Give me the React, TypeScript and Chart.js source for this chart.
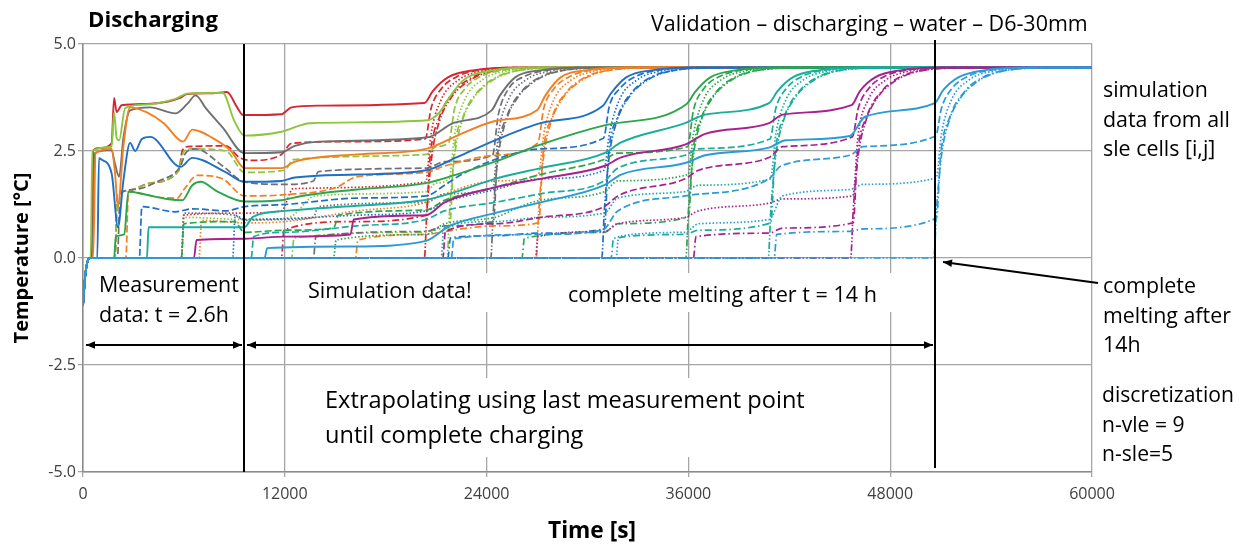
import React, { useEffect, useRef } from "react";
import { Chart, registerables } from "chart.js";
Chart.register(...registerables);

// ---------- axis values ----------
const X_TICKS = [0, 12000, 24000, 36000, 48000, 60000];
const Y_TICKS = [-5, -2.5, 0, 2.5, 5];
const MEAS_END_T = 9570; // end of measurement data [s]
const MELT_END_T = 50650; // complete melting [s]

// common start of every cell (initial sub-cooling) and common end value
const START: number[][] = [[0, -1.1], [150, -0.35], [400, 0]];
const END: number[][] = [[60000, 4.45]];

// ---------- group 1 (red) ----------
const RED_S = [[520,0],[620,2.52],[1000,2.57],[1700,2.68],[1850,3.74],[2000,3.41],[2300,3.57],[3800,3.6],[5000,3.65],[5770,3.74],[6180,3.83],[7730,3.85],[8560,3.88],[9150,3.53],[9520,3.34],[11800,3.36],[12400,3.52],[14000,3.56],[20300,3.62],[20800,3.9],[21700,4.22],[23300,4.39],[25800,4.45]];
const RED_D = [[1900,0],[2050,1.5],[2500,1.56],[4000,1.75],[5700,2.05],[5900,2.5],[6200,2.6],[8500,2.62],[9300,2.35],[10000,2.28],[11800,2.42],[12400,2.68],[16000,2.72],[20350,2.78],[20700,3.5],[21300,3.95],[22300,4.25],[23800,4.4],[26300,4.45]];
const RED_O = [[5850,0],[6000,1.0],[9500,1.05],[11800,1.1],[12500,1.62],[20380,1.78],[20700,2.9],[21300,3.7],[22300,4.15],[23800,4.37],[26300,4.45]];
const RED_DD = [[11800,0],[11950,0.65],[16000,0.85],[20400,1.0],[20650,2.4],[21200,3.3],[22100,3.9],[23300,4.25],[24800,4.4],[27300,4.45]];
const RED_DDD = [[20300,0],[20450,1.1],[20750,2.4],[21200,3.2],[21900,3.75],[22800,4.1],[24000,4.33],[25800,4.43],[28000,4.45]];

// ---------- group 2 (light green) ----------
const LG_S = [[450,0],[560,2.5],[1700,2.6],[1850,3.4],[2000,2.8],[2150,2.75],[2500,3.5],[3500,3.58],[5500,3.72],[6200,3.84],[8300,3.86],[9000,3.2],[9600,2.86],[11800,2.95],[13500,3.15],[20500,3.22],[21200,3.4],[21700,3.7],[22600,4.15],[24300,4.38],[26800,4.45]];
const LG_D = [[1900,0],[2050,1.5],[2500,1.56],[4000,1.75],[5700,2.05],[5950,2.45],[6300,2.55],[8500,2.5],[9600,2.0],[12000,2.05],[12500,2.3],[20400,2.42],[21000,2.6],[21750,2.7],[22100,3.5],[22700,3.95],[23700,4.25],[25200,4.4],[27700,4.45]];
const LG_O = [[5850,0],[6000,0.95],[9600,0.9],[12000,0.92],[12500,1.0],[13800,1.45],[20400,1.55],[21000,1.75],[21780,1.85],[22100,2.9],[22700,3.7],[23700,4.15],[25200,4.37],[27700,4.45]];
const LG_DD = [[12400,0],[12550,0.47],[20400,0.6],[21000,0.68],[21800,0.72],[22050,2.4],[22600,3.3],[23500,3.9],[24700,4.25],[26200,4.4],[28700,4.45]];
const LG_DDD = [[21650,0],[21800,1.1],[22100,2.4],[22550,3.2],[23250,3.75],[24150,4.1],[25350,4.33],[27150,4.43],[29500,4.45]];

// ---------- group 3 (gray) ----------
const GR_S = [[550,0],[700,2.45],[1700,2.52],[1900,2.2],[2150,1.9],[2400,2.8],[2800,3.45],[4000,3.52],[5500,3.38],[6200,3.6],[6700,3.8],[7300,3.5],[8300,3.05],[9600,2.45],[11800,2.47],[12600,2.62],[14000,2.72],[20500,2.82],[22000,3.15],[24300,3.45],[24800,3.8],[25700,4.22],[27300,4.39],[29800,4.45]];
const GR_D = [[2050,0],[2200,1.5],[3000,1.6],[4500,1.8],[5800,2.15],[6100,2.45],[6700,2.55],[8300,2.15],[9600,1.78],[12000,1.72],[13700,1.8],[14000,2.02],[20400,2.1],[21500,2.25],[24350,2.4],[24700,3.35],[25300,3.95],[26300,4.25],[27800,4.4],[30300,4.45]];
const GR_O = [[5850,0],[6000,1.05],[9000,1.0],[9600,0.88],[12000,0.9],[13700,0.95],[14000,1.2],[20400,1.3],[21500,1.5],[24380,1.65],[24700,2.9],[25300,3.7],[26300,4.15],[27800,4.37],[30300,4.45]];
const GR_DD = [[13700,0],[13850,0.5],[20400,0.62],[21500,0.75],[24400,0.85],[24650,2.4],[25200,3.3],[26100,3.9],[27300,4.25],[28800,4.4],[31300,4.45]];
const GR_DDD = [[24250,0],[24400,1.1],[24700,2.4],[25150,3.2],[25850,3.75],[26750,4.1],[27950,4.33],[29750,4.43],[32000,4.45]];

// ---------- group 4 (orange) ----------
const OR_S = [[600,0],[750,2.45],[1700,2.55],[1900,2.0],[2080,1.2],[2400,2.6],[2800,3.52],[3800,3.4],[4800,3.15],[5950,2.72],[6500,3.0],[7000,2.95],[7500,2.85],[8800,2.5],[9600,2.1],[11800,2.1],[12600,2.25],[16300,2.42],[20400,2.55],[22200,2.85],[24500,3.2],[27000,3.45],[27500,3.8],[28400,4.22],[30000,4.39],[32500,4.45]];
const OR_D = [[2550,0],[2700,1.55],[4500,1.42],[5600,1.4],[6000,1.6],[6800,1.93],[8300,1.85],[9600,1.45],[12000,1.48],[15000,1.64],[16300,1.9],[20400,2.0],[21500,2.15],[24500,2.4],[27050,2.69],[27400,3.5],[28000,3.95],[29000,4.25],[30500,4.4],[33000,4.45]];
const OR_O = [[6900,0],[7050,0.88],[9600,0.82],[12000,0.85],[16300,1.1],[20400,1.3],[21500,1.5],[24500,1.8],[27080,1.95],[27400,2.9],[28000,3.7],[29000,4.15],[30500,4.37],[33000,4.45]];
const OR_DD = [[16200,0],[16350,0.42],[20400,0.55],[21500,0.62],[24500,0.75],[27100,0.82],[27350,2.4],[27900,3.3],[28800,3.9],[30000,4.25],[31500,4.4],[34000,4.45]];
const OR_DDD = [[26950,0],[27100,1.1],[27400,2.4],[27850,3.2],[28550,3.75],[29450,4.1],[30650,4.33],[32450,4.43],[35000,4.45]];

// ---------- group 5 (blue) ----------
const BL_S = [[850,0],[950,2.33],[1100,2.3],[1700,1.98],[2080,0.72],[2400,1.8],[2800,2.69],[3100,2.5],[3500,2.78],[4000,2.83],[5800,2.13],[6500,2.34],[8500,2.0],[9600,1.78],[11800,1.8],[12600,1.88],[16300,1.95],[20400,2.05],[22200,2.35],[24500,2.75],[27200,3.15],[30900,3.55],[31400,3.85],[32300,4.22],[33900,4.39],[36400,4.45]];
const BL_D = [[3350,0],[3500,1.2],[5500,1.08],[6500,1.15],[8500,1.1],[9600,1.2],[12000,1.25],[16300,1.4],[20400,1.45],[21500,1.7],[22500,1.95],[24500,2.3],[27200,2.55],[30950,2.8],[31300,3.55],[31900,3.95],[32900,4.25],[34400,4.4],[36900,4.45]];
const BL_O = [[8900,0],[9050,1.0],[9600,0.9],[12000,0.92],[16300,1.0],[20400,1.1],[21500,1.3],[24500,1.6],[27200,1.85],[30980,2.05],[31300,2.9],[31900,3.7],[32900,4.15],[34400,4.37],[36900,4.45]];
const BL_DD = [[21700,0],[21850,0.47],[24500,0.52],[27200,0.58],[31000,0.68],[31250,2.4],[31800,3.3],[32700,3.9],[33900,4.25],[35400,4.4],[37900,4.45]];
const BL_DDD = [[30850,0],[31000,1.1],[31300,2.4],[31750,3.2],[32450,3.75],[33350,4.1],[34550,4.33],[36350,4.43],[39000,4.45]];

// ---------- group 6 (green) ----------
const GN_S = [[1850,0],[1950,0.5],[2450,0.55],[2700,1.55],[3500,1.5],[5000,1.38],[5900,1.35],[6500,1.7],[7000,1.78],[8000,1.55],[9600,1.32],[11800,1.35],[13000,1.45],[16300,1.6],[20400,1.75],[22200,1.95],[24500,2.25],[27200,2.65],[31000,3.1],[35900,3.6],[36400,3.88],[37300,4.22],[38900,4.39],[41400,4.45]];
const GN_D = [[5850,0],[6000,0.8],[9000,0.85],[9600,0.6],[12000,0.65],[14900,0.7],[15200,1.0],[20400,1.12],[21500,1.35],[24500,1.65],[27200,1.95],[31000,2.3],[31800,2.45],[35950,2.6],[36300,3.45],[36900,3.95],[37900,4.25],[39400,4.4],[41900,4.45]];
const GN_O = [[14900,0],[15050,0.42],[20400,0.55],[21500,0.8],[24500,0.95],[26000,1.2],[27200,1.35],[31000,1.55],[31800,1.8],[35980,1.95],[36300,2.9],[36900,3.7],[37900,4.15],[39400,4.37],[41900,4.45]];
const GN_DD = [[26100,0],[26250,0.46],[31000,0.6],[31800,0.8],[36000,0.96],[36250,2.4],[36800,3.3],[37700,3.9],[38900,4.25],[40400,4.4],[42900,4.45]];
const GN_DDD = [[35850,0],[36000,1.1],[36300,2.4],[36750,3.2],[37450,3.75],[38350,4.1],[39550,4.33],[41350,4.43],[44000,4.45]];

// ---------- group 7 (teal) ----------
const TL_S = [[3800,0],[3900,0.72],[9600,0.72],[10100,0.96],[12000,1.1],[16300,1.22],[20400,1.36],[22200,1.55],[24500,1.85],[27200,2.1],[31000,2.45],[32000,2.7],[35800,3.15],[37000,3.35],[40800,3.62],[41300,3.9],[42200,4.22],[43800,4.39],[46300,4.45]];
const TL_D = [[10000,0],[10150,0.5],[12000,0.6],[16300,0.75],[20400,0.9],[21500,1.1],[24500,1.3],[27200,1.5],[31000,1.8],[31800,2.1],[35800,2.4],[36600,2.55],[40850,2.78],[41200,3.5],[41800,3.95],[42800,4.25],[44300,4.4],[46800,4.45]];
const TL_O = [[21300,0],[21450,0.72],[24500,0.85],[27200,0.95],[31000,1.05],[31800,1.4],[35800,1.55],[36600,1.7],[40880,1.85],[41200,2.9],[41800,3.7],[42800,4.15],[44300,4.37],[46800,4.45]];
const TL_DD = [[31400,0],[31550,0.46],[35800,0.55],[36600,0.65],[40900,0.82],[41150,2.4],[41700,3.3],[42600,3.9],[43800,4.25],[45300,4.4],[47800,4.45]];
const TL_DDD = [[40750,0],[40900,1.1],[41200,2.4],[41650,3.2],[42350,3.75],[43250,4.1],[44450,4.33],[46250,4.43],[49000,4.45]];

// ---------- group 8 (magenta) ----------
const MG_S = [[6600,0],[6750,0.42],[9600,0.45],[12000,0.5],[15900,0.55],[16100,0.9],[20400,1.0],[21500,1.3],[24500,1.65],[27200,1.85],[31000,2.15],[32000,2.35],[35800,2.65],[37000,2.9],[40800,3.15],[41600,3.35],[45700,3.57],[46200,3.9],[47100,4.22],[48700,4.39],[51200,4.45]];
const MG_D = [[21400,0],[21550,0.62],[24500,0.8],[27200,0.95],[31000,1.2],[31800,1.45],[35800,1.85],[36600,2.05],[40800,2.35],[41600,2.6],[45750,2.83],[46100,3.5],[46700,3.95],[47700,4.25],[49200,4.4],[51700,4.45]];
const MG_O = [[26900,0],[27050,0.5],[31000,0.62],[31800,0.8],[35800,0.95],[36600,1.1],[40800,1.28],[41600,1.38],[45780,1.45],[46100,2.9],[46700,3.7],[47700,4.15],[49200,4.37],[51700,4.45]];
const MG_DD = [[36300,0],[36450,0.5],[40800,0.58],[41600,0.7],[45800,0.82],[46050,2.4],[46600,3.3],[47500,3.9],[48700,4.25],[50200,4.4],[52700,4.45]];
const MG_DDD = [[45650,0],[45800,1.1],[46100,2.4],[46550,3.2],[47250,3.75],[48150,4.1],[49350,4.33],[51150,4.43],[54000,4.45]];

// ---------- group 9 (light blue) ----------
const LB_S = [[10800,0],[10950,0.23],[16000,0.27],[20400,0.4],[21800,0.75],[24500,1.05],[27200,1.3],[31000,1.7],[32000,1.95],[35800,2.22],[37000,2.4],[40800,2.58],[41800,2.75],[45600,2.85],[46500,3.3],[50650,3.62],[51150,3.92],[52050,4.22],[53650,4.39],[56150,4.45]];
const LB_D = [[21900,0],[22050,0.45],[27000,0.55],[30900,0.65],[31800,1.1],[35800,1.45],[40800,1.85],[41500,2.15],[45600,2.4],[46400,2.6],[50700,2.85],[51050,3.5],[51650,3.95],[52650,4.25],[54150,4.4],[56650,4.45]];
const LB_O = [[31700,0],[31850,0.5],[35800,0.6],[36600,0.8],[40800,0.9],[41600,1.45],[45600,1.6],[46400,1.72],[50730,1.87],[51050,2.9],[51650,3.7],[52650,4.15],[54150,4.37],[56650,4.45]];
const LB_DD = [[41100,0],[41250,0.55],[45600,0.62],[46400,0.68],[50750,0.93],[51000,2.4],[51550,3.3],[52450,3.9],[53650,4.25],[55150,4.4],[57650,4.45]];
const LB_DDD = [[50600,0],[50750,1.1],[51050,2.4],[51500,3.2],[52200,3.75],[53100,4.1],[54300,4.33],[56100,4.43],[58500,4.45]];

const GROUPS = [
  [RED_S, RED_D, RED_O, RED_DD, RED_DDD],
  [LG_S, LG_D, LG_O, LG_DD, LG_DDD],
  [GR_S, GR_D, GR_O, GR_DD, GR_DDD],
  [OR_S, OR_D, OR_O, OR_DD, OR_DDD],
  [BL_S, BL_D, BL_O, BL_DD, BL_DDD],
  [GN_S, GN_D, GN_O, GN_DD, GN_DDD],
  [TL_S, TL_D, TL_O, TL_DD, TL_DDD],
  [MG_S, MG_D, MG_O, MG_DD, MG_DDD],
  [LB_S, LB_D, LB_O, LB_DD, LB_DDD],
];

// ---------- styles ----------
const COLORS = ["#d6262f", "#8cc63e", "#6e6f73", "#f47f20", "#1f6fc6", "#2ba64c", "#19ad9e", "#a8218e", "#2a9bd6"];
const DASHES: number[][] = [[], [7, 3], [1.5, 2], [7, 3, 1.5, 3], [7, 2, 1.5, 2, 1.5, 2]];
const FONT = '"Open Sans", "Noto Sans", sans-serif';

function fitSize(ctx: CanvasRenderingContext2D, text: string, width: number, bold: boolean) {
  ctx.font = `${bold ? "bold " : ""}100px ${FONT}`;
  return (100 * width) / ctx.measureText(text).width;
}

type Block = { lines: string[]; x: number; y: number; dy?: number; fitLine?: number; fit: number; bold?: boolean };
const BLOCKS: Block[] = [
  { lines: ["Discharging"], x: 88, y: 27, fit: 130, bold: true },
  { lines: ["Validation – discharging – water – D6-30mm"], x: 651, y: 31, fit: 437 },
  { lines: ["simulation", "data from all", "sle cells [i,j]"], x: 1103, y: 97, dy: 29.5, fitLine: 1, fit: 127 },
  { lines: ["complete", "melting after", "14h"], x: 1103, y: 293, dy: 29.5, fitLine: 1, fit: 128 },
  { lines: ["discretization", "n-vle = 9", "n-sle=5"], x: 1102, y: 402, dy: 29.5, fitLine: 0, fit: 132 },
  { lines: ["Measurement", "data: t = 2.6h"], x: 99, y: 292, dy: 29.5, fitLine: 0, fit: 140 },
  { lines: ["Simulation data!"], x: 308, y: 298, fit: 164 },
  { lines: ["complete melting after t = 14 h"], x: 568, y: 302, fit: 309 },
  { lines: ["Extrapolating using last measurement point", "until complete charging"], x: 325, y: 408, dy: 35, fitLine: 0, fit: 480 },
  { lines: ["Time [s]"], x: 548, y: 538, fit: 88, bold: true },
];

function arrowHead(ctx: CanvasRenderingContext2D, x1: number, y1: number, x2: number, y2: number) {
  const a = Math.atan2(y2 - y1, x2 - x1);
  const L = 9, W = 3.8;
  ctx.beginPath();
  ctx.moveTo(x2, y2);
  ctx.lineTo(x2 - L * Math.cos(a) + W * Math.sin(a), y2 - L * Math.sin(a) - W * Math.cos(a));
  ctx.lineTo(x2 - L * Math.cos(a) - W * Math.sin(a), y2 - L * Math.sin(a) + W * Math.cos(a));
  ctx.closePath();
  ctx.fill();
}
function arrow(ctx: CanvasRenderingContext2D, x1: number, y1: number, x2: number, y2: number, both: boolean) {
  ctx.beginPath();
  ctx.moveTo(x1, y1);
  ctx.lineTo(x2, y2);
  ctx.stroke();
  arrowHead(ctx, x1, y1, x2, y2);
  if (both) arrowHead(ctx, x2, y2, x1, y1);
}

const annotations = {
  id: "annotations",
  beforeDatasetsDraw(chart: any) {
    const ctx = chart.ctx as CanvasRenderingContext2D;
    ctx.save();
    ctx.fillStyle = "#ffffff";
    ctx.fillRect(300, 273, 600, 39);
    ctx.fillRect(300, 378, 580, 79);
    ctx.restore();
  },
  afterDatasetsDraw(chart: any) {
    const ctx = chart.ctx as CanvasRenderingContext2D;
    const xs = chart.scales.x;
    const ys = chart.scales.y;
    ctx.save();
    ctx.strokeStyle = "#000";
    ctx.fillStyle = "#000";
    ctx.lineWidth = 2;
    const xa = Math.round(xs.getPixelForValue(MEAS_END_T));
    const xb = Math.round(xs.getPixelForValue(MELT_END_T));
    ctx.beginPath();
    ctx.moveTo(xa, ys.top);
    ctx.lineTo(xa, ys.bottom);
    ctx.moveTo(xb, ys.top - 4);
    ctx.lineTo(xb, ys.bottom - 4);
    ctx.stroke();
    ctx.lineWidth = 1.8;
    const ay = 345;
    arrow(ctx, xs.left + 3, ay, xa - 2, ay, true);
    arrow(ctx, xa + 3, ay, xb - 2, ay, true);
    arrow(ctx, 1098, 283, xb + 8, ys.getPixelForValue(0) + 4, false);
    ctx.fillStyle = "#000";
    ctx.textBaseline = "alphabetic";
    ctx.textAlign = "left";
    for (const b of BLOCKS) {
      const size = fitSize(ctx, b.lines[b.fitLine ?? 0], b.fit, !!b.bold);
      ctx.font = `${b.bold ? "bold " : ""}${size}px ${FONT}`;
      b.lines.forEach((ln, i) => ctx.fillText(ln, b.x, b.y + i * (b.dy ?? 0)));
    }
    const yt = "Temperature [°C]";
    const ysz = fitSize(ctx, yt, 171, true);
    ctx.font = `bold ${ysz}px ${FONT}`;
    ctx.translate(28, 258);
    ctx.rotate(-Math.PI / 2);
    ctx.textAlign = "center";
    ctx.fillText(yt, 0, 0);
    ctx.restore();
  },
};

export default function App() {
  const ref = useRef<HTMLCanvasElement>(null);
  useEffect(() => {
    const canvas = ref.current!;
    const datasets: any[] = [];
    GROUPS.forEach((grp, gi) => {
      grp.forEach((curve, si) => {
        datasets.push({
          data: [...START, ...curve, ...END].map(([x, y]) => ({ x, y })),
          borderColor: COLORS[gi],
          backgroundColor: COLORS[gi],
          borderDash: DASHES[si],
          borderWidth: si === 0 ? 1.9 : 1.7,
          pointRadius: 0,
          fill: false,
          cubicInterpolationMode: "monotone",
          order: (8 - gi) * 5 + si,
        });
      });
    });
    const tickFont = { family: FONT, size: 16 };
    const chart = new Chart(canvas, {
      type: "line",
      data: { datasets },
      options: {
        responsive: false,
        animation: false,
        devicePixelRatio: 1,
        layout: { padding: { left: 0, right: 153, top: 44, bottom: 0 } },
        plugins: { legend: { display: false }, tooltip: { enabled: false }, title: { display: false } },
        scales: {
          x: {
            type: "linear",
            min: 0,
            max: 60000,
            afterBuildTicks: (s: any) => { s.ticks = X_TICKS.map((v) => ({ value: v })); },
            afterFit: (s: any) => { s.height = 74; },
            ticks: { padding: 8, font: tickFont, color: "#404040", maxRotation: 0, callback: (v: any) => String(v) },
            grid: { color: "#a6a6a6", lineWidth: 1.3, tickLength: 5 },
            border: { color: "#8c8c8c", width: 1.5 },
          },
          y: {
            type: "linear",
            min: -5,
            max: 5,
            afterBuildTicks: (s: any) => { s.ticks = Y_TICKS.map((v) => ({ value: v })); },
            afterFit: (s: any) => { s.width = 83; },
            ticks: { padding: 2, font: tickFont, color: "#404040", callback: (v: any) => Number(v).toFixed(1) },
            grid: { color: "#a6a6a6", lineWidth: 1.3, tickLength: 5 },
            border: { color: "#8c8c8c", width: 1.5 },
          },
        },
      } as any,
      plugins: [annotations as any],
    });
    return () => chart.destroy();
  }, []);
  return (
    <div style={{ position: "absolute", left: 0, top: 0, width: 1245, height: 546, background: "#fff" }}>
      <canvas ref={ref} width={1245} height={546} style={{ width: 1245, height: 546, display: "block" }} />
    </div>
  );
}
